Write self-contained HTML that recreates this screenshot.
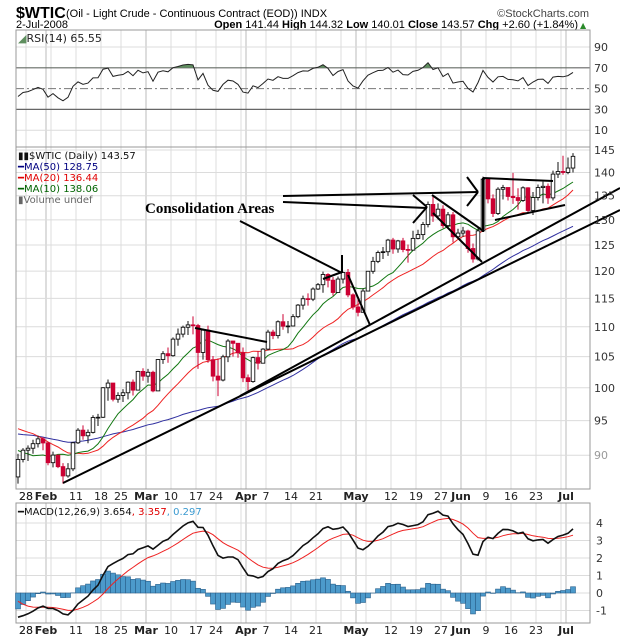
<!DOCTYPE html>
<html><head><meta charset="utf-8"><style>
body{margin:0;background:#fff;}
svg{display:block;font-family:"DejaVu Sans","Liberation Sans",sans-serif;}
</style></head><body>
<svg id="c" width="620" height="639" viewBox="0 0 620 639" xmlns="http://www.w3.org/2000/svg">
<text x="16" y="18" font-size="16" font-weight="bold" font-family="Liberation Sans, sans-serif">$WTIC</text>
<text x="66" y="17" font-size="11" font-family="Liberation Sans, sans-serif">(Oil - Light Crude - Continuous Contract (EOD)) INDX</text>
<text x="589" y="17" font-size="11" text-anchor="end" fill="#444" font-family="Liberation Sans, sans-serif">©StockCharts.com</text>
<text x="16" y="28" font-size="11" font-family="Liberation Sans, sans-serif">2-Jul-2008</text>
<text x="578" y="28" font-size="11" text-anchor="end" font-family="Liberation Sans, sans-serif"><tspan font-weight="bold">Open</tspan> 141.44 <tspan font-weight="bold">High</tspan> 144.32 <tspan font-weight="bold">Low</tspan> 140.01 <tspan font-weight="bold">Close</tspan> 143.57 <tspan font-weight="bold">Chg</tspan> +2.60 (+1.84%)</text>
<text x="580" y="28" font-size="8" fill="#2a8a2a">▲</text>
<g id="grid"></g><g id="marks"></g><g id="anno"></g><g id="labels"></g>
</svg>
<script>
const priorCloses=[91,94,94,95,94,95,98,98,97,98,94,97,94,91,88.7,89,88,87.5,88,90,91,88,91,93,91,91.4,90.6,90.5,91,93,94,93,96,96,96,96,99.6,99.2,97.9,97.9,95.1,96.3,95.7,93.7,92.7,94.2,91.9,91.2,90.6,89.3,86.6,87.0];
const closes=[89.41,90.71,90.99,91.64,92.33,91.75,88.96,90.02,88.41,87.14,88.11,91.77,93.59,92.78,93.27,95.46,95.50,100.01,100.74,98.23,98.81,99.23,100.88,99.64,102.59,101.84,102.45,99.52,104.52,105.47,105.15,107.90,108.75,109.92,110.33,110.21,105.68,109.42,104.48,101.84,101.22,104.96,107.58,107.2,105.62,101.58,100.98,104.83,103.92,106.23,109.09,108.50,110.87,110.11,110.14,111.76,113.79,114.93,114.86,116.69,117.48,119.37,118.30,116.06,118.52,119.75,115.63,113.46,112.52,116.32,119.97,121.84,123.53,123.69,125.96,124.23,125.80,124.12,124.0,126.29,127.05,129.07,133.17,130.81,132.19,128.85,131.03,126.62,127.35,127.76,124.31,122.30,127.79,138.54,134.35,131.31,136.38,136.74,134.86,134.61,134.01,136.68,131.93,134.62,136.74,137.00,134.55,139.64,140.21,140.00,140.97,143.57];
const highs=[90.2,91.0,91.4,92.2,92.8,92.6,91.9,90.5,90.0,88.9,88.9,91.9,93.9,94.3,93.7,95.8,96.0,100.1,101.3,100.5,99.3,99.8,101.0,101.3,102.7,103.1,103.0,102.7,104.6,105.9,106.5,108.2,109.7,110.2,111.0,111.8,110.5,109.7,110.2,105.1,104.7,105.3,107.9,107.6,107.1,106.5,102.1,105.0,105.9,106.4,109.5,109.5,111.1,112.2,111.0,112.2,114.0,115.5,115.9,117.0,117.8,119.9,119.6,118.9,119.0,119.9,120.4,115.9,115.0,116.8,120.0,122.7,123.9,124.6,126.2,126.4,126.0,126.4,125.1,127.8,128.0,129.6,133.8,135.1,133.4,133.0,131.6,131.6,128.2,128.6,128.0,125.3,128.3,139.1,138.5,135.3,136.8,137.3,136.6,139.9,136.6,137.0,136.8,135.8,137.4,138.0,137.6,140.4,142.3,143.7,143.3,144.3];
const lows=[86.1,89.0,89.2,90.2,91.1,90.7,88.6,88.3,88.2,86.1,86.9,87.8,91.6,92.2,91.7,93.1,94.2,95.4,98.0,97.9,97.7,97.8,98.2,98.8,99.6,101.1,100.8,99.3,99.5,103.8,104.0,105.0,106.8,108.2,108.6,108.7,103.0,104.5,104.0,101.0,98.7,101.0,104.1,105.0,104.8,100.9,99.6,100.8,102.9,103.9,106.0,107.9,108.0,109.5,108.9,110.1,111.5,113.0,113.7,114.5,116.5,116.0,117.0,115.5,116.2,117.7,115.2,113.0,111.8,112.6,116.3,119.5,121.5,122.3,122.9,123.3,123.5,123.6,121.6,124.0,126.1,126.0,128.5,129.6,130.1,128.3,128.2,125.5,126.2,126.6,123.5,121.6,122.0,127.7,133.4,130.6,131.0,134.2,134.0,133.3,132.1,133.7,131.3,131.0,134.0,133.4,133.3,134.0,138.8,139.5,139.6,140.0];
const priceTicks=[145,140,135,130,125,120,115,110,105,100,95,90];
const rsiTicks=[90,70,50,30,10];
const macdTicks=[4,3,2,1,0,-1];
const weekLabelOverrides={'2-19':'18'};

const NS="http://www.w3.org/2000/svg";
function mk(p,tag,at){const e=document.createElementNS(NS,tag);for(const k in at)e.setAttribute(k,at[k]);p.appendChild(e);return e;}
const G=document.getElementById('grid'),M=document.getElementById('marks'),A=document.getElementById('anno'),L=document.getElementById('labels');
const X0=16,X1=590;
const R={t:30,b:147},P={t:147,b:489},D={t:503,b:623};
const xS=i=>18+i*5.0;
const yR=v=>47+(90-v)*1.04;
const yP=p=>150+640*Math.log(145/p);
const yM=v=>593-17.5*v;

const hol=['2008-2-18','2008-3-21','2008-5-26'];
const dates=[];{let d=new Date(2008,0,24);while(dates.length<closes.length){const w=d.getDay();const k=d.getFullYear()+'-'+(d.getMonth()+1)+'-'+d.getDate();if(w>0&&w<6&&!hol.includes(k))dates.push(new Date(d));d.setDate(d.getDate()+1);}}
const mon=['Jan','Feb','Mar','Apr','May','Jun','Jul'];
const vlines=[];
for(let i=1;i<dates.length;i++){const d=dates[i],p=dates[i-1];
 if(d.getMonth()!==p.getMonth())vlines.push({i,lab:mon[d.getMonth()],bold:true,month:true});
 else if(d.getDay()<p.getDay()||d-p>3*864e5){const nextMonthSoon=dates.slice(i+1,i+4).some(q=>q.getMonth()!==d.getMonth());const prevMonth=vlines.length&&vlines[vlines.length-1].month&&i-vlines[vlines.length-1].i<3;const key=(d.getMonth()+1)+'-'+d.getDate();const lab=weekLabelOverrides[key]||String(d.getDate());vlines.push({i,lab:(nextMonthSoon||prevMonth)?'':lab,bold:false});}
}
vlines.unshift({i:2,lab:'28',bold:false});

[[R,'rsi'],[P,'price'],[D,'macd']].forEach(([pn,n])=>{
 vlines.forEach(v=>{const l=mk(G,'line',{x1:xS(v.i)-2,x2:xS(v.i)-2,y1:pn.t,y2:pn.b,stroke:v.month?'#bbb':'#dcdcdc','stroke-width':1});});
});
rsiTicks.forEach(t=>{const dark=(t===70||t===30);const l=mk(G,'line',{x1:X0,x2:X1,y1:yR(t),y2:yR(t),stroke:dark?'#666':(t===50?'#777':'#dcdcdc'),'stroke-width':dark?1.2:1,'stroke-dasharray':t===50?'8,3,2,3':'none'});
 const tx=mk(L,'text',{x:594,y:yR(t)+4,'font-size':11,fill:'#333'});tx.textContent=t;});
priceTicks.forEach(t=>{const l=mk(G,'line',{x1:X0,x2:X1,y1:yP(t),y2:yP(t),stroke:'#dcdcdc'});
 const tx=mk(L,'text',{x:594,y:yP(t)+4,'font-size':11,fill:t===90?'#999':'#333'});tx.textContent=t;});
macdTicks.forEach(t=>{const l=mk(G,'line',{x1:X0,x2:X1,y1:yM(t),y2:yM(t),stroke:'#dcdcdc'});
 const tx=mk(L,'text',{x:596,y:yM(t)+4,'font-size':11,fill:'#333'});tx.textContent=t;});
[[R,'rsi-panel'],[P,'price-panel'],[D,'macd-panel']].forEach(([pn,n])=>{const r=mk(G,'rect',{x:X0,y:pn.t,width:X1-X0,height:pn.b-pn.t,fill:'none',stroke:'#999'});});
[500,634].forEach(yy=>vlines.forEach(v=>{if(!v.lab)return;const tx=mk(L,'text',{x:xS(v.i)-2,y:yy,'font-size':11,'text-anchor':'middle','font-weight':v.bold?'bold':'normal',fill:'#222'});tx.textContent=v.lab;}));

const all=priorCloses.concat(closes),off=priorCloses.length;
function sma(n,i){let s=0;for(let k=i-n+1;k<=i;k++)s+=all[k];return s/n;}
function ema(arr,n){const a=2/(n+1);const o=[arr[0]];for(let i=1;i<arr.length;i++)o.push(arr[i]*a+o[i-1]*(1-a));return o;}
const e12=ema(all,12),e26=ema(all,26);const macd=all.map((v,i)=>e12[i]-e26[i]);const sig=ema(macd,9);
let ag=0,al=0;const rsi=[];for(let i=1;i<all.length;i++){const ch=all[i]-all[i-1];const g=Math.max(ch,0),l=Math.max(-ch,0);if(i<=14){ag+=g/14;al+=l/14;}else{ag=(ag*13+g)/14;al=(al*13+l)/14;}rsi[i]=100-100/(1+ag/(al||1e-9));}

function path(fn,y,color,w,name){let d='';closes.forEach((c,i)=>{d+=(i?'L':'M')+xS(i).toFixed(1)+','+y(fn(i+off)).toFixed(1);});const p=mk(M,'path',{d,fill:'none',stroke:color,'stroke-width':w});return d;}

const cp=mk(M,'clipPath',{id:'above70'});mk(cp,'rect',{x:X0,y:R.t,width:X1-X0,height:yR(70)-R.t});
let rd='M'+xS(0)+','+yR(70);closes.forEach((c,i)=>rd+='L'+xS(i).toFixed(1)+','+yR(rsi[i+off]).toFixed(1));rd+='L'+xS(closes.length-1)+','+yR(70)+'Z';
const rf=mk(M,'path',{d:rd,fill:'#5f8f5f','clip-path':'url(#above70)'});
path(i=>rsi[i],yR,'#222',1,'rsi-line');

path(i=>sma(50,i),yP,'#3030a0',1,'ma50-line');
path(i=>sma(20,i),yP,'#ee2222',1,'ma20-line');
path(i=>sma(10,i),yP,'#117711',1,'ma10-line');

closes.forEach((c,i)=>{const o=i?closes[i-1]:priorCloses[priorCloses.length-1];const h=Math.max(highs[i],o,c),lo=Math.min(lows[i],o,c);const x=xS(i);
 const up=c>=o;const wk=mk(M,'line',{x1:x,x2:x,y1:yP(h),y2:yP(lo),stroke:up?'#111':'#cc0033','stroke-width':1});
 const t=yP(Math.max(o,c)),b=yP(Math.min(o,c));const r=mk(M,'rect',{x:x-1.8,y:t,width:3.6,height:Math.max(b-t,0.8),fill:up?'#fff':'#cc0033',stroke:up?'#111':'#cc0033','stroke-width':0.9});});

closes.forEach((c,i)=>{const h=macd[i+off]-sig[i+off];const y0=yM(0),y1=yM(h);const r=mk(M,'rect',{x:xS(i)-2.5,y:Math.min(y0,y1),width:5,height:Math.abs(y1-y0),fill:'#4c9acb',stroke:'#2a5f8a','stroke-width':0.6});});
path(i=>sig[i],yM,'#ee2222',1,'macd-signal-line');
path(i=>macd[i],yM,'#111',1.6,'macd-line');

const segs=[[63,483,620,210],[240,396,620,188],[283,196,478,192],[467,177,478,192],[478,192,467,206],[283,202,427,208],[413,195,427,207],[427,207,413,223],[240,221,342,273],[342,255,342,273],[323,279,342,272],[348,275,370,325],[195,328,267,342],[432,195,482,230],[433,213,482,262],[483,178,553,181],[483,178,483,232],[495,220,565,205]];
segs.forEach(s=>{const l=mk(A,'line',{x1:s[0],y1:s[1],x2:s[2],y2:s[3],stroke:'#000','stroke-width':2});});
</script>
<svg style="position:absolute;left:0;top:0" width="620" height="639">
<text x="145" y="213" font-size="15" font-weight="bold" font-family="Liberation Serif, serif">Consolidation Areas</text>
<text x="18" y="42" font-size="11" fill="#222" font-family="DejaVu Sans, sans-serif"><tspan fill="#5f8f5f">◢</tspan>RSI(14) 65.55</text>
<g font-size="10" font-family="DejaVu Sans, sans-serif">
<text x="18" y="159" fill="#111">▮▮$WTIC (Daily) 143.57</text>
<text x="18" y="170" fill="#000080">━MA(50) 128.75</text>
<text x="18" y="181" fill="#e00000">━MA(20) 136.44</text>
<text x="18" y="192" fill="#006400">━MA(10) 138.06</text>
<text x="18" y="203" fill="#666">▮Volume undef</text>
<text x="18" y="515" fill="#111">━MACD(12,26,9) 3.654<tspan fill="#e00000">, 3.357</tspan><tspan fill="#3b9ad0">, 0.297</tspan></text>
</g>
</svg>
</body></html>
